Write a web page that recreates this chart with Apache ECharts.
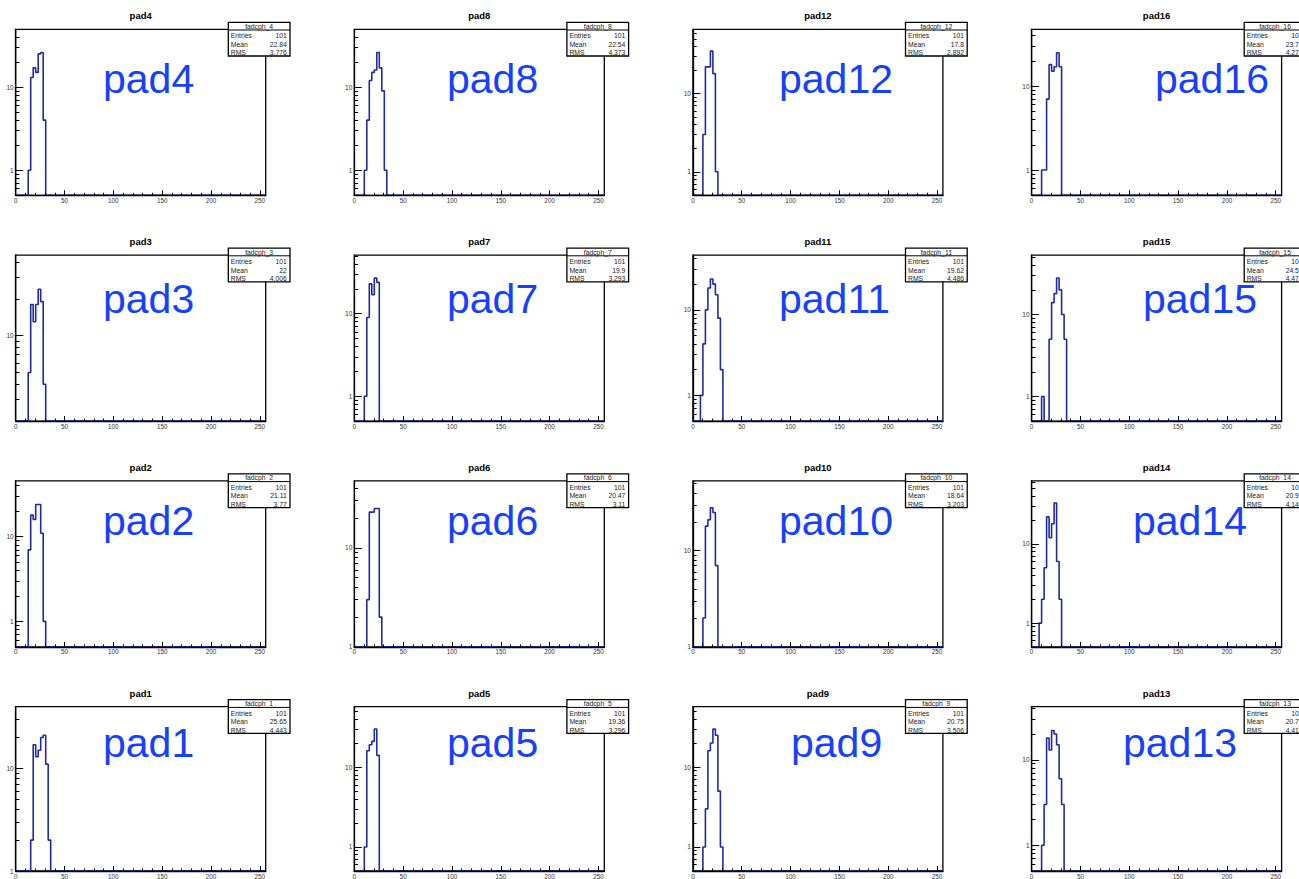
<!DOCTYPE html>
<html>
<head>
<meta charset="utf-8">
<script src="https://cdn.jsdelivr.net/npm/echarts@6/dist/echarts.min.js"></script>
<style>
html,body{margin:0;padding:0;background:#ffffff;}
#chart{width:1299px;height:879px;}
</style>
</head>
<body>
<div id="chart"></div>
<script>
// ---------------- DATA ----------------
const BIN_WIDTH = 2.56;          // 100 bins over 0..256
const N_BINS = 100;
const X_MAX = 256;

const padNumbers = [1,2,3,4,5,6,7,8,9,10,11,12,13,14,15,16];
const histNames = ['fadcph_1','fadcph_2','fadcph_3','fadcph_4','fadcph_5','fadcph_6','fadcph_7','fadcph_8',
                   'fadcph_9','fadcph_10','fadcph_11','fadcph_12','fadcph_13','fadcph_14','fadcph_15','fadcph_16'];
const entriesVals = ['101','101','101','101','101','101','101','101','101','101','101','101','101','101','101','101'];
const meanVals = ['25.65','21.11','22','22.84','19.36','20.47','19.9','22.54','20.75','18.64','19.62','17.8','20.73','20.98','24.59','23.74'];
const rmsVals  = ['4.443','3.77','4.006','3.776','3.296','3.11','3.293','4.373','3.506','3.203','4.486','2.892','4.414','4.146','4.474','4.273'];

// index of first listed bin for each pad (pad1..pad16)
const firstBin = [6,5,5,5,4,5,4,4,4,4,3,4,4,3,4,4];
// bin contents starting at firstBin (all other bins are empty)
const counts1  = [2,17,13,15,20,21,11,2];
const counts2  = [7,18,16,24,24,11,1];
const counts3  = [5,18,13,18,24,19,4];
const counts4  = [1,13,17,15,25,26,4];
const counts5  = [1,16,19,21,30,14];
const counts6  = [3,23,23,25,25,2];
const counts7  = [1,9,23,17,27,24];
const counts8  = [1,4,12,15,16,26,17,9,1];
const counts9  = [1,3,16,20,30,25,5,1];
const counts10 = [2,18,21,28,25,7];
const counts11 = [1,4,10,18,23,20,15,8,2];
const counts12 = [3,22,22,35,18,1];
const counts13 = [1,3,18,13,22,20,15,6,3];
const counts14 = [1,2,5,22,12,18,33,6,2];
const counts15 = [1,0,0,5,14,18,28,20,10,5];
const counts16 = [1,1,7,18,15,17,25,17];
const allCounts = [counts1,counts2,counts3,counts4,counts5,counts6,counts7,counts8,
                   counts9,counts10,counts11,counts12,counts13,counts14,counts15,counts16];

const xMajorTicks = [0,50,100,150,200,250];
const xMinorTicks = [10,20,30,40,60,70,80,90,110,120,130,140,160,170,180,190,210,220,230,240];
const yMajorTicks = [0.1,1,10,100];
const yMinorMultipliers = [2,3,4,5,6,7,8,9];

// ---------------- LAYOUT ----------------
const FONT = '"Liberation Sans", Arial, Helvetica, sans-serif';
const FRAME_W = 250, FRAME_H = 166;
const COL_X = [15.7, 354.3, 692.9, 1031.6];
const ROW_Y = [29.3, 255.1, 480.9, 706.7];
const HIST_COLOR = '#1f2aa6';
const LABEL_COLOR = '#1540ff';
const labelLeft = [103,103,103,103,447,447,447,447,791,779,779,779,1123,1133,1143,1155];
const labelBase = [93,313,535,757];

function padRowCol(n){ const col = Math.floor((n-1)/4); const row = 3 - ((n-1)%4); return {row,col}; }

const grids = [], xAxes = [], yAxes = [], series = [], graphics = [];

padNumbers.forEach((n, i) => {
  const {row, col} = padRowCol(n);
  const left = COL_X[col], top = ROW_Y[row];
  const counts = allCounts[i];
  const start = firstBin[i];
  const positive = counts.filter(v => v > 0);
  const yMin = 0.5 * Math.min(...positive);
  const yMax = 1.9 * Math.max(...positive);

  grids.push({left, top, width: FRAME_W, height: FRAME_H, show: true,
    borderColor: '#000', borderWidth: 1.3, backgroundColor: 'transparent'});

  const xi = xAxes.length;
  xAxes.push({
    type: 'value', gridIndex: i, min: 0, max: X_MAX, position: 'bottom', z: 5,
    axisLine: {show: true, onZero: false, lineStyle: {color: '#000', width: 1.3}},
    axisTick: {show: true, inside: true, length: 5, customValues: xMajorTicks, lineStyle: {color: '#000', width: 1}},
    axisLabel: {show: true, customValues: xMajorTicks, fontSize: 6.3, color: '#333', margin: 2, fontFamily: FONT},
    splitLine: {show: false}
  });
  xAxes.push({
    type: 'value', gridIndex: i, min: 0, max: X_MAX, position: 'bottom', z: 5,
    axisLine: {show: false},
    axisTick: {show: true, inside: true, length: 2.5, customValues: xMinorTicks, lineStyle: {color: '#000', width: 1}},
    axisLabel: {show: false}, splitLine: {show: false}
  });

  const majors = yMajorTicks.filter(v => v >= yMin && v <= yMax);
  const minors = [];
  [0.1, 1, 10].forEach(d => yMinorMultipliers.forEach(m => { const v = +(m*d).toFixed(3); if (v >= yMin && v <= yMax) minors.push(v); }));

  const yi = yAxes.length;
  yAxes.push({
    type: 'log', gridIndex: i, min: yMin, max: yMax, position: 'left', z: 5,
    axisLine: {show: true, onZero: false, lineStyle: {color: '#000', width: 1.3}},
    axisTick: {show: true, inside: true, length: 7.5, customValues: majors, lineStyle: {color: '#000', width: 1}},
    axisLabel: {show: true, customValues: majors, fontSize: 6.5, color: '#333', margin: 2, fontFamily: FONT,
                formatter: v => String(Math.round(v))},
    splitLine: {show: false}
  });
  yAxes.push({
    type: 'log', gridIndex: i, min: yMin, max: yMax, position: 'left', z: 5,
    axisLine: {show: false},
    axisTick: {show: true, inside: true, length: 3.75, customValues: minors, lineStyle: {color: '#000', width: 1}},
    axisLabel: {show: false}, splitLine: {show: false}
  });

  // histogram outline (zero bins drawn at the frame bottom, like ROOT)
  const data = [];
  for (let b = 0; b < N_BINS; b++) {
    const k = b - start;
    const c = (k >= 0 && k < counts.length) ? counts[k] : 0;
    data.push([b * BIN_WIDTH, c > 0 ? c : yMin]);
  }
  data.push([X_MAX, data[data.length-1][1]]);
  series.push({
    type: 'line', xAxisIndex: xi, yAxisIndex: yi, step: 'end', symbol: 'none', showSymbol: false,
    data, clip: true, z: 2, animation: false, silent: true,
    lineStyle: {color: HIST_COLOR, width: 1.6}
  });

  // pad title
  graphics.push({type: 'text', z: 20, style: {text: 'pad' + n, x: left + 125, y: top - 13.5,
    textAlign: 'center', textVerticalAlign: 'middle', font: 'bold 9.5px ' + FONT, fill: '#000'}});

  // stats box
  const bx = left + 212.6, by = top - 7;
  graphics.push({type: 'rect', z: 20, shape: {x: bx, y: by, width: 61.7, height: 33.7},
    style: {fill: '#fff', stroke: '#000', lineWidth: 1.3}});
  graphics.push({type: 'line', z: 21, shape: {x1: bx, y1: by + 7.7, x2: bx + 61.7, y2: by + 7.7},
    style: {stroke: '#000', lineWidth: 1}});
  graphics.push({type: 'text', z: 22, style: {text: histNames[i], x: bx + 30.85, y: by + 3.9,
    textAlign: 'center', textVerticalAlign: 'middle', font: '6.8px ' + FONT, fill: '#222'}});
  [['Entries', entriesVals[i], 13.4], ['Mean', meanVals[i], 22], ['RMS', rmsVals[i], 30.4]].forEach(r => {
    graphics.push({type: 'text', z: 22, style: {text: r[0], x: bx + 2.5, y: by + r[2],
      textAlign: 'left', textVerticalAlign: 'middle', font: '6.8px ' + FONT, fill: '#222'}});
    graphics.push({type: 'text', z: 22, style: {text: r[1], x: bx + 58.5, y: by + r[2],
      textAlign: 'right', textVerticalAlign: 'middle', font: '6.8px ' + FONT, fill: '#222'}});
  });

  // big blue pad label
  graphics.push({type: 'text', z: 15, style: {text: 'pad' + n, x: labelLeft[i], y: labelBase[row] - 14,
    textAlign: 'left', textVerticalAlign: 'middle', font: '41px ' + FONT, fill: LABEL_COLOR}});
});

const chart = echarts.init(document.getElementById('chart'), null, {renderer: 'svg', width: 1299, height: 879});
chart.setOption({
  animation: false,
  backgroundColor: '#ffffff',
  grid: grids, xAxis: xAxes, yAxis: yAxes, series,
  graphic: {elements: graphics}
});
</script>
</body>
</html>
